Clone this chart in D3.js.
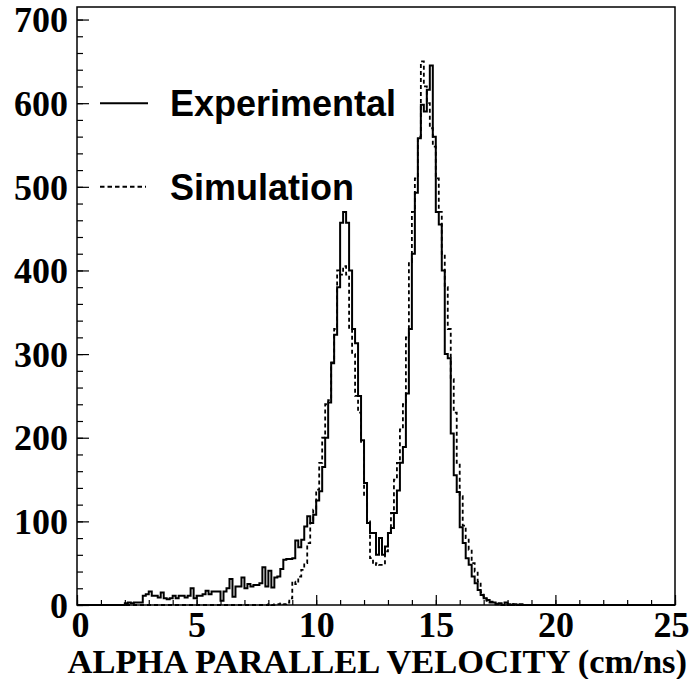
<!DOCTYPE html>
<html>
<head>
<meta charset="utf-8">
<script src="https://cdn.jsdelivr.net/npm/d3@7"></script>
<style>
  html, body { margin: 0; padding: 0; background: #fff; }
  svg { display: block; }
</style>
</head>
<body>
<svg id="chart" width="694" height="679"></svg>
<script>
// ---- data ----
const binWidth = 0.125; // cm/ns per bin, bins start at 0
const experimental = [
  0,0,0,0,0,0,0,0,0,0,0,0,0,0,0,0,
  2,3,2,3,3,3,
  11,13,16,11,11,9,15,8,7,8,11,8,11,11,9,11,20,8,11,11,13,17,13,16,16,16,5,16,20,31,10,22,22,33,20,25,22,24,24,26,45,22,41,21,33,34,43,54,
  55,55,56,77,69,78,94,106,98,108,125,136,165,200,242,289,323,380,457,470,457,400,330,313,250,197,146,98,86,86,
  60,80,60,70,86,92,110,137,170,189,253,330,420,493,558,598,590,616,645,560,470,455,400,300,295,205,155,135,93,74,
  56,48,34,26,18,12,8,6,3,3,1,2,0,3,1,0,1,0,1,0,
  0,0,0,0,0,0,0,0,0,0,0,0,0,0,0,0,0,0,0,0,
  0,0,0,0,0,0,0,0,0,0,0,0,0,0,0,0,0,0,0,0,
  0,0,0,0,0,0,0,0,0,0
];
const simulation = [
  0,0,0,0,0,0,0,0,0,0,0,0,0,0,0,0,0,0,0,0,
  0,0,0,0,0,0,0,0,0,0,0,0,0,0,0,0,0,0,0,0,
  0,0,0,0,0,0,0,0,0,0,0,0,0,0,0,0,0,0,0,0,
  0,0,0,0,1,0,1,1,2,1,3,8,28,25,34,42,50,74,98,114,
  138,170,200,240,245,290,330,400,395,405,395,330,300,250,230,195,130,100,56,48,
  50,48,48,64,86,110,150,170,210,240,320,410,470,510,560,650,620,600,570,548,
  510,470,420,380,330,270,230,170,130,95,80,66,50,40,28,15,10,5,4,2,
  1,1,0,1,0,1,0,0,0,0,0,0,0,0,0,0,0,0,0,0,
  0,0,0,0,0,0,0,0,0,0,0,0,0,0,0,0,0,0,0,0,
  0,0,0,0,0,0,0,0,0,0
];
const xMajorTicks = [0, 5, 10, 15, 20, 25];
const xMinorTicks = d3.range(0, 26, 1);
const yMajorTicks = [0, 100, 200, 300, 400, 500, 600, 700];
const yMinorTicks = d3.range(0, 720, 20);
const xTitle = "ALPHA PARALLEL VELOCITY (cm/ns)";
const legendLabels = ["Experimental", "Simulation"];

// ---- layout ----
const svg = d3.select("#chart");
const L = 77, R = 675, T = 7, B = 605;
const x = d3.scaleLinear().domain([0, 25]).range([L, R]);
const y = d3.scaleLinear().domain([0, 715]).range([B, T]);

const serif = "'Liberation Serif','Times New Roman',serif";
const sans = "'Liberation Sans',Arial,Helvetica,sans-serif";

function histPath(counts) {
  const pts = counts.map((c, i) => [i * binWidth, c]);
  pts.push([counts.length * binWidth, counts[counts.length - 1]]);
  return d3.line().x(d => x(d[0])).y(d => y(d[1])).curve(d3.curveStepAfter)(pts);
}

// histograms
svg.append("path").attr("d", histPath(simulation))
  .attr("fill", "none").attr("stroke", "#000").attr("stroke-width", 1.8)
  .attr("stroke-dasharray", "4,3");
svg.append("path").attr("d", histPath(experimental))
  .attr("fill", "none").attr("stroke", "#000").attr("stroke-width", 2);

// frame
svg.append("rect").attr("x", L).attr("y", T).attr("width", R - L).attr("height", B - T)
  .attr("fill", "none").attr("stroke", "#000").attr("stroke-width", 1.5);

// y axis
const yAxis = svg.append("g").attr("transform", `translate(${L},0)`)
  .call(d3.axisLeft(y).tickValues(yMajorTicks).tickSize(-12).tickPadding(9).tickFormat(d3.format("d")));
const yMinor = svg.append("g").attr("transform", `translate(${L},0)`)
  .call(d3.axisLeft(y).tickValues(yMinorTicks).tickSize(-6).tickFormat(""));
// x axis
const xAxis = svg.append("g").attr("transform", `translate(0,${B})`)
  .call(d3.axisBottom(x).tickValues(xMajorTicks).tickSize(-10).tickPadding(6).tickFormat(d3.format("d")));
const xMinor = svg.append("g").attr("transform", `translate(0,${B})`)
  .call(d3.axisBottom(x).tickValues(xMinorTicks).tickSize(-5).tickFormat(""));

[yAxis, yMinor, xAxis, xMinor].forEach(g => {
  g.select(".domain").remove();
  g.selectAll("line").attr("stroke", "#000").attr("stroke-width", 1.2);
  g.selectAll("text").attr("font-family", serif).attr("font-weight", "bold")
    .attr("font-size", 36).attr("fill", "#000");
});
yAxis.selectAll("text").attr("dy", "0.34em");
xAxis.selectAll("text").attr("dy", "0.71em")
  .attr("dx", d => d === 0 ? 3 : (d === 25 ? -4 : 0));

// x title
svg.append("text").attr("x", 687).attr("y", 673).attr("text-anchor", "end")
  .attr("font-family", serif).attr("font-weight", "bold").attr("font-size", 34.5)
  .text(xTitle);

// legend
const legY = [y(600), y(500)];
svg.append("line").attr("x1", 100).attr("x2", 148).attr("y1", legY[0]).attr("y2", legY[0])
  .attr("stroke", "#000").attr("stroke-width", 2);
svg.append("line").attr("x1", 100).attr("x2", 146).attr("y1", legY[1]).attr("y2", legY[1])
  .attr("stroke", "#000").attr("stroke-width", 2).attr("stroke-dasharray", "4.5,3");
legendLabels.forEach((t, i) => {
  svg.append("text").attr("x", 170).attr("y", legY[i] + 13)
    .attr("font-family", sans).attr("font-weight", "bold").attr("font-size", 36)
    .text(t);
});
</script>
</body>
</html>
